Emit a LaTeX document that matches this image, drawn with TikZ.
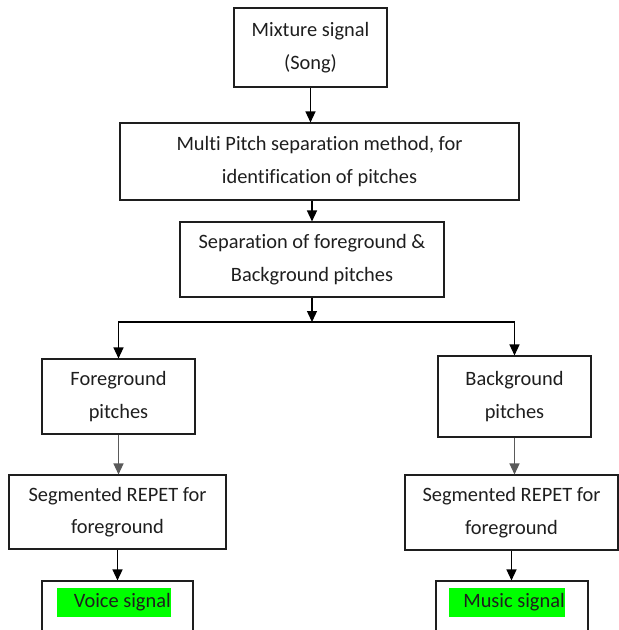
\documentclass[tikz,border=0pt]{standalone}
\usepackage{fontspec}
\setmainfont{Carlito}[Ligatures={NoCommon,NoRare}]
\usetikzlibrary{arrows.meta}
\definecolor{hl}{RGB}{0,255,0}
\definecolor{ink}{RGB}{30,30,30}
\definecolor{garrow}{RGB}{90,90,90}
\tikzset{
  box/.style={draw=ink, line width=1.1pt, inner sep=0pt, align=center,
    font={\fontsize{20.4}{32.5}\selectfont}, text=ink},
  arr/.style={line width=1.4pt, draw=black, -{Triangle[length=11pt,width=10pt]}},
  garr/.style={arr, draw=garrow},
  hlbox/.style={fill=hl, inner xsep=0pt, inner ysep=0pt, minimum height=29pt,
    font={\fontsize{20.4}{24}\selectfont}, text=ink, anchor=east}
}
\begin{document}
\begin{tikzpicture}[x=1pt,y=-1pt]
\useasboundingbox (0,0) rectangle (619,630);
\node[box, minimum width=153pt, minimum height=79pt] (B1) at (310.5,47.5) {Mixture signal\\(Song)};
\node[box, minimum width=399pt, minimum height=77pt] (B2) at (319.5,161.5) {Multi Pitch separation method, for\\identification of pitches};
\node[box, minimum width=264pt, minimum height=75pt] (B3) at (312,259.5) {Separation of foreground \&\\Background pitches};
\node[box, minimum width=153pt, minimum height=75pt] (FG) at (118.5,396.5) {Foreground\\pitches};
\node[box, minimum width=153pt, minimum height=81pt] (BG) at (514.5,396.5) {Background\\pitches};
\node[box, minimum width=217pt, minimum height=74pt] (SL) at (117.5,512) {Segmented REPET for\\foreground};
\node[box, minimum width=213pt, minimum height=75pt] (SR) at (511.5,512.5) {Segmented REPET for\\foreground};
\node[box, minimum width=151pt, minimum height=80pt] (V) at (117.5,621) {};
\node[box, minimum width=152pt, minimum height=80pt] (M) at (512,621) {};
\node[hlbox] (VT) at (171,602.5) {\hspace*{17pt}Voice signal};
\node[hlbox] (MT) at (565,602.5) {\hspace*{14pt}Music signal};
\coordinate (br) at (312,322);
\draw[arr] (B1.south) -- (B1.south |- B2.north);
\draw[arr] (B3.north |- B2.south) -- (B3.north);
\draw[arr] (B3.south) -- (br);
\draw[arr] (br) -| (FG.north);
\draw[arr] (br) -| (BG.north);
\draw[garr] (FG.south) -- (FG.south |- SL.north);
\draw[garr] (BG.south) -- (BG.south |- SR.north);
\draw[arr] (SL.south) -- (SL.south |- V.north);
\draw[arr] (SR.south) -- (SR.south |- M.north);
\end{tikzpicture}
\end{document}
